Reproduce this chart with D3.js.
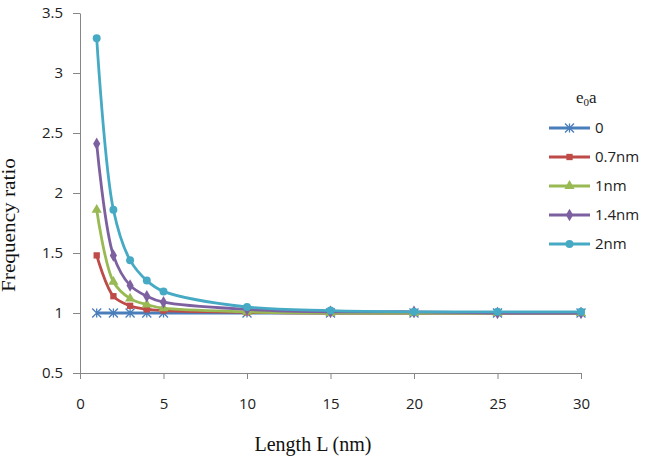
<!DOCTYPE html>
<html>
<head>
<meta charset="utf-8" />
<script src="https://d3js.org/d3.v7.min.js"></script>
<style>
  body { margin: 0; background: #fff; }
  .tick text { font-family: "Open Sans", "Liberation Sans", sans-serif; font-size: 15px; fill: #222; }
  .axis path, .axis line { stroke: #868686; }
  .title { font-family: "Liberation Serif", serif; fill: #111; }
  .legend text { font-family: "Open Sans", "Liberation Sans", sans-serif; font-size: 15px; fill: #222; }
</style>
</head>
<body>
<div id="chart"></div>
<script>
const lengths = [1, 2, 3, 4, 5, 10, 15, 20, 25, 30];
const seriesNames = ["0", "0.7nm", "1nm", "1.4nm", "2nm"];
const ratio0   = [1, 1, 1, 1, 1, 1, 1, 1, 1, 1];
const ratio07  = [1.48, 1.14, 1.06, 1.03, 1.02, 1.005, 1.0, 1.0, 1.0, 1.0];
const ratio1   = [1.86, 1.26, 1.12, 1.07, 1.04, 1.01, 1.0, 1.0, 1.0, 1.0];
const ratio14  = [2.41, 1.48, 1.23, 1.14, 1.09, 1.03, 1.01, 1.01, 1.0, 1.0];
const ratio2   = [3.29, 1.86, 1.44, 1.27, 1.18, 1.05, 1.02, 1.01, 1.01, 1.01];
const colors = ["#4a7ebb", "#be4b48", "#98b954", "#7d60a0", "#46aac5"];
const markers = ["asterisk", "square", "triangle", "diamond", "circle"];

const allSeries = [ratio0, ratio07, ratio1, ratio14, ratio2];

const width = 647, height = 464;
const margin = {left: 80, right: 66, top: 13, bottom: 91};

const svg = d3.select("#chart").append("svg").attr("width", width).attr("height", height);

const x = d3.scaleLinear().domain([0, 30]).range([margin.left, width - margin.right]);
const y = d3.scaleLinear().domain([0.5, 3.5]).range([height - margin.bottom, margin.top]);

svg.append("g").attr("class", "axis")
  .attr("transform", `translate(0,${y(0.5)})`)
  .call(d3.axisBottom(x).tickValues(d3.range(0, 31, 5)).tickSize(6).tickSizeOuter(0).tickPadding(19));

svg.append("g").attr("class", "axis")
  .attr("transform", `translate(${x(0)},0)`)
  .call(d3.axisLeft(y).tickValues(d3.range(0.5, 3.51, 0.5)).tickFormat(d3.format("")).tickSize(7).tickSizeOuter(0).tickPadding(10));

svg.append("text").attr("class", "title")
  .attr("x", 313).attr("y", 451).attr("text-anchor", "middle")
  .attr("font-size", 20)
  .text("Length L (nm)");

svg.append("text").attr("class", "title")
  .attr("transform", `translate(15,225) rotate(-90)`)
  .attr("text-anchor", "middle")
  .attr("font-size", 18)
  .attr("textLength", 134).attr("lengthAdjust", "spacingAndGlyphs")
  .text("Frequency ratio");

const line = d3.line().curve(d3.curveCatmullRom.alpha(0.5))
  .x((d, i) => x(lengths[i])).y(d => y(d));

function drawMarker(g, type, color, cx, cy) {
  if (type === "asterisk") {
    const s = 4.5;
    g.append("path")
      .attr("d", `M${cx - s},${cy - s}L${cx + s},${cy + s}M${cx - s},${cy + s}L${cx + s},${cy - s}M${cx},${cy - s}L${cx},${cy + s}`)
      .attr("stroke", color).attr("stroke-width", 1.3).attr("fill", "none");
  } else {
    const sym = {square: d3.symbolSquare, triangle: d3.symbolTriangle, diamond: d3.symbolDiamond, circle: d3.symbolCircle}[type];
    const size = {square: 40, triangle: 45, diamond: 45, circle: 50}[type];
    g.append("path")
      .attr("d", d3.symbol().type(sym).size(size)())
      .attr("transform", `translate(${cx},${cy})`)
      .attr("fill", color);
  }
}

allSeries.forEach((vals, k) => {
  const g = svg.append("g");
  g.append("path").datum(vals)
    .attr("d", line)
    .attr("fill", "none")
    .attr("stroke", colors[k])
    .attr("stroke-width", 2.8);
  vals.forEach((v, i) => drawMarker(g, markers[k], colors[k], x(lengths[i]), y(v)));
});

// legend
const lg = svg.append("g").attr("class", "legend");
const lt = lg.append("text").attr("x", 576).attr("y", 103)
  .style("font-family", "Liberation Serif, serif").style("font-size", "17px");
lt.append("tspan").text("e");
lt.append("tspan").attr("font-size", 11).attr("dy", 3).text("0");
lt.append("tspan").attr("dy", -3).text("a");

seriesNames.forEach((name, k) => {
  const yy = 128 + k * 29;
  lg.append("line").attr("x1", 549).attr("x2", 590).attr("y1", yy).attr("y2", yy)
    .attr("stroke", colors[k]).attr("stroke-width", 2.8);
  drawMarker(lg, markers[k], colors[k], 569.5, yy);
  lg.append("text").attr("x", 595).attr("y", yy + 5).text(name);
});
</script>
</body>
</html>
